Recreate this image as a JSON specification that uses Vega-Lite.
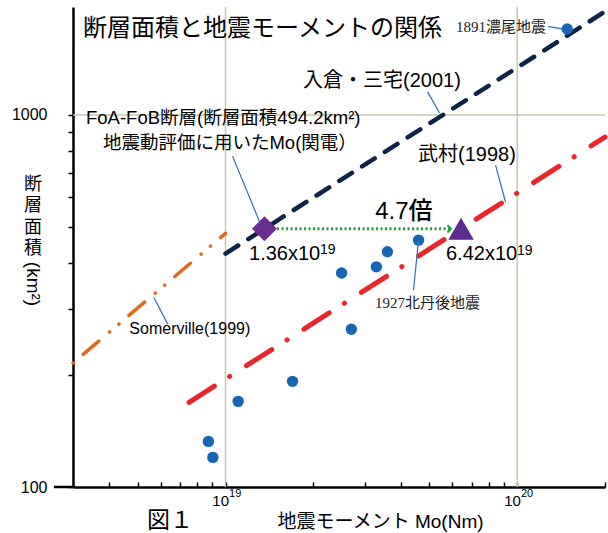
{
  "$schema": "https://vega.github.io/schema/vega-lite/v6.json",
  "width": 532,
  "height": 480,
  "autosize": {"type": "none"},
  "padding": {"left": 73, "top": 7, "right": 3, "bottom": 46},
  "background": "white",
  "config": {"view": {"stroke": null}, "font": "Liberation Sans, Noto Sans CJK JP"},
  "datasets": {
    "quakes": [
      {"M": 8.74e18, "S": 132.6},
      {"M": 9.05e18, "S": 120.1},
      {"M": 1.105e19, "S": 169.9},
      {"M": 1.697e19, "S": 192.3},
      {"M": 2.50e19, "S": 376},
      {"M": 2.70e19, "S": 265.5},
      {"M": 3.29e19, "S": 390.6},
      {"M": 3.59e19, "S": 428.6},
      {"M": 4.59e19, "S": 460.8},
      {"M": 1.484e20, "S": 1701}
    ],
    "grid": [
      {"M": 1e19, "S": 100, "M2": 1e19, "S2": 1950},
      {"M": 1e20, "S": 100, "M2": 1e20, "S2": 1950},
      {"M": 3e18, "S": 1000, "M2": 2e20, "S2": 1000}
    ],
    "leaders": [
      {"M": 1.28e20, "S": 1726, "M2": 1.43e20, "S2": 1704},
      {"M": 4.93e19, "S": 1153, "M2": 5.42e19, "S2": 1012},
      {"M": 1.057e19, "S": 775, "M2": 1.318e19, "S2": 509},
      {"M": 8.43e19, "S": 733, "M2": 9.12e19, "S2": 583},
      {"M": 4.59e19, "S": 461, "M2": 4.41e19, "S2": 338},
      {"M": 5.68e18, "S": 323, "M2": 6.34e18, "S2": 274}
    ]
  },
  "encoding": {
    "x": {
      "field": "M", "type": "quantitative",
      "scale": {"type": "log", "domain": [3e18, 2e20]},
      "axis": {
        "title": "地震モーメント Mo(Nm)",
        "titleFontSize": 19, "titleFontWeight": "normal", "titleColor": "#000",
        "titleX": 307, "titleY": 34, "titleAlign": "center", "titleBaseline": "middle",
        "values": [4e18, 5e18, 6e18, 7e18, 8e18, 9e18, 1e19, 2e19, 3e19, 4e19, 5e19, 6e19, 7e19, 8e19, 9e19, 1e20, 2e20],
        "labels": false,
        "grid": false, "domainColor": "#000", "domainWidth": 2.5,
        "tickColor": "#000", "tickWidth": 1.5, "tickSize": -5
      }
    },
    "y": {
      "field": "S", "type": "quantitative",
      "scale": {"type": "log", "domain": [100, 1950]},
      "axis": {
        "title": ["断", "層", "面", "積"],
        "titleAngle": 0, "titleX": -40.5, "titleY": 168, "titleAlign": "center", "titleBaseline": "top",
        "titleFontSize": 18, "titleLineHeight": 21.5, "titleFontWeight": "normal", "titleColor": "#000",
        "values": [100, 200, 300, 400, 500, 600, 700, 800, 900, 1000],
        "labelExpr": "datum.value == 100 ? '100' : datum.value == 1000 ? '1000' : ''",
        "labelFontSize": 16, "labelColor": "#000", "labelPadding": 21, "labelOverlap": false, "labelFlush": false,
        "grid": false, "domainColor": "#000", "domainWidth": 2.5,
        "tickColor": "#000", "tickWidth": 1.5, "tickSize": 5
      }
    }
  },
  "layer": [
    {
      "data": {"name": "grid"},
      "mark": {"type": "rule", "color": "#c9c6ab", "strokeWidth": 1.5},
      "encoding": {"x2": {"field": "M2"}, "y2": {"field": "S2"}}
    },
    {
      "data": {"values": [{"M": 2.58e18, "S": 100, "M2": 3e18, "S2": 100}]},
      "mark": {"type": "rule", "color": "#000", "strokeWidth": 2.5},
      "encoding": {"x2": {"field": "M2"}, "y2": {"field": "S2"}}
    },
    {
      "data": {"values": [{"M": 3e18, "S": 215.4}, {"M": 1e19, "S": 480.4}]},
      "mark": {"type": "line", "color": "#e0691e", "strokeWidth": 3.5, "strokeCap": "round", "strokeDash": [20.5, 14, 0.1, 12.2, 0.1, 13.2], "strokeDashOffset": 46.75},
      "encoding": {}
    },
    {
      "data": {"values": [{"M": 7.5e18, "S": 168.9}, {"M": 2e20, "S": 872}]},
      "mark": {"type": "line", "color": "#e8262c", "strokeWidth": 5, "strokeCap": "round", "strokeDash": [30, 18, 0.1, 20]},
      "encoding": {}
    },
    {
      "data": {"values": [{"M": 1e19, "S": 424}, {"M": 2e20, "S": 1896}]},
      "mark": {"type": "line", "color": "#0f2347", "strokeWidth": 4.5, "strokeCap": "round", "strokeDash": [15, 12]},
      "encoding": {}
    },
    {
      "data": {"values": [{"M": 1.502e19, "S": 494.2}, {"M": 5.9e19, "S": 494.2}]},
      "mark": {"type": "line", "color": "#20a030", "strokeWidth": 3, "strokeDash": [2, 2.5]},
      "encoding": {}
    },
    {
      "data": {"values": [{"M": 5.93e19, "S": 494.2}]},
      "mark": {"type": "point", "shape": "M-1,-1L0,0L-1,1", "filled": false, "size": 50, "strokeWidth": 2, "color": "#20a030", "opacity": 1}
    },
    {
      "data": {"name": "quakes"},
      "mark": {"type": "point", "shape": "circle", "filled": true, "size": 130, "color": "#1766b5", "opacity": 1}
    },
    {
      "data": {"values": [{"M": 1.36e19, "S": 494.2}]},
      "mark": {"type": "point", "shape": "diamond", "filled": true, "size": 625, "color": "#6a2d90", "opacity": 1}
    },
    {
      "data": {"values": [{"M": 6.42e19, "S": 494.2}]},
      "mark": {"type": "point", "shape": "triangle-up", "filled": true, "size": 650, "color": "#5c2c8e", "opacity": 1}
    },
    {
      "data": {"name": "leaders"},
      "mark": {"type": "rule", "color": "#2f6eb5", "strokeWidth": 1.2},
      "encoding": {"x2": {"field": "M2"}, "y2": {"field": "S2"}}
    },
    {
      "data": {"values": [{"M": 3.247e18, "S": 1702, "t": "断層面積と地震モーメントの関係"}]},
      "mark": {"type": "text", "align": "left", "baseline": "middle", "fontSize": 24, "color": "#000"},
      "encoding": {"text": {"field": "t"}}
    },
    {
      "data": {"values": [{"M": 1.255e20, "S": 1722, "t": "1891濃尾地震"}]},
      "mark": {"type": "text", "align": "right", "baseline": "middle", "fontSize": 15, "font": "Liberation Serif, Noto Sans CJK JP", "color": "#222"},
      "encoding": {"text": {"field": "t"}}
    },
    {
      "data": {"values": [{"M": 3.254e19, "S": 312.2, "t": "1927北丹後地震"}]},
      "mark": {"type": "text", "align": "left", "baseline": "middle", "fontSize": 15, "font": "Liberation Serif, Noto Sans CJK JP", "color": "#222"},
      "encoding": {"text": {"field": "t"}}
    },
    {
      "data": {"values": [
        {"M": 1.844e19, "S": 1233, "t": "入倉・三宅(2001)"},
        {"M": 4.57e19, "S": 780, "t": "武村(1998)"}
      ]},
      "mark": {"type": "text", "align": "left", "baseline": "middle", "fontSize": 20, "color": "#000"},
      "encoding": {"text": {"field": "t"}}
    },
    {
      "data": {"values": [
        {"M": 3.325e18, "S": 981, "t": "FoA-FoB断層(断層面積494.2km²)"},
        {"M": 3.80e18, "S": 840.5, "t": "地震動評価に用いたMo(関電）"}
      ]},
      "mark": {"type": "text", "align": "left", "baseline": "middle", "fontSize": 18.5, "color": "#000"},
      "encoding": {"text": {"field": "t"}}
    },
    {
      "data": {"values": [{"M": 4.09e19, "S": 548, "t": "4.7倍"}]},
      "mark": {"type": "text", "align": "center", "baseline": "middle", "fontSize": 24, "fontWeight": 500, "color": "#000"},
      "encoding": {"text": {"field": "t"}}
    },
    {
      "data": {"values": [
        {"M": 1.204e19, "S": 422.9, "t": "1.36x10"},
        {"M": 5.70e19, "S": 421.6, "t": "6.42x10"}
      ]},
      "mark": {"type": "text", "align": "left", "baseline": "middle", "fontSize": 20, "color": "#000"},
      "encoding": {"text": {"field": "t"}}
    },
    {
      "data": {"values": [
        {"M": 2.109e19, "S": 433.5, "t": "19"},
        {"M": 9.98e19, "S": 430.8, "t": "19"}
      ]},
      "mark": {"type": "text", "align": "left", "baseline": "middle", "fontSize": 14, "color": "#000"},
      "encoding": {"text": {"field": "t"}}
    },
    {
      "data": {"values": [
        {"M": 1.028e19, "S": 91.7, "t": "10"},
        {"M": 1.03e20, "S": 91.7, "t": "10"}
      ]},
      "mark": {"type": "text", "align": "right", "baseline": "middle", "fontSize": 15, "color": "#000"},
      "encoding": {"text": {"field": "t"}}
    },
    {
      "data": {"values": [
        {"M": 1.028e19, "S": 95.8, "t": "19"},
        {"M": 1.03e20, "S": 95.8, "t": "20"}
      ]},
      "mark": {"type": "text", "align": "left", "baseline": "middle", "fontSize": 11, "color": "#000"},
      "encoding": {"text": {"field": "t"}}
    },
    {
      "data": {"values": [{"M": 4.68e18, "S": 265.8, "t": "Somerville(1999)"}]},
      "mark": {"type": "text", "align": "left", "baseline": "middle", "fontSize": 16, "color": "#000"},
      "encoding": {"text": {"field": "t"}}
    },
    {
      "data": {"values": [{"M": 6.45e18, "S": 81.0, "t": "図１"}]},
      "mark": {"type": "text", "align": "center", "baseline": "middle", "fontSize": 23, "color": "#000"},
      "encoding": {"text": {"field": "t"}}
    },
    {
      "data": {"values": [{"M": 2.18e18, "S": 351.3, "t": "(km²)"}]},
      "mark": {"type": "text", "align": "center", "baseline": "middle", "fontSize": 19, "angle": 90, "color": "#000"},
      "encoding": {"text": {"field": "t"}}
    }
  ]
}
